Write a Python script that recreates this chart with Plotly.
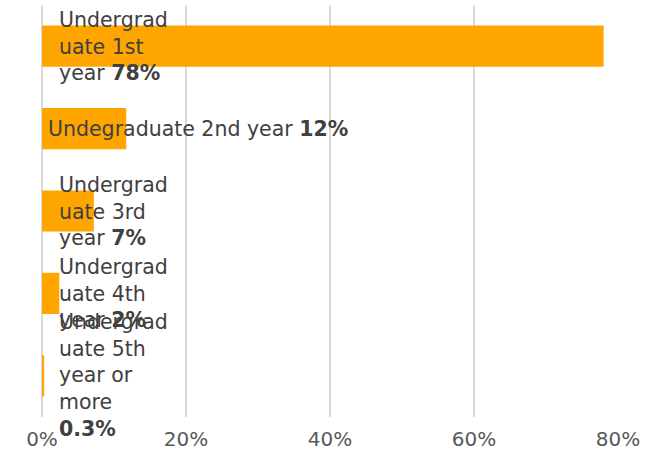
import plotly.graph_objects as go

categories = ["Undergraduate 1st year", "Undegraduate 2nd year", "Undergraduate 3rd year",
              "Undergraduate 4th year", "Undergraduate 5th year or more"]
values = [0.78, 0.117, 0.072, 0.024, 0.003]
label_names = ["Undergrad<br>uate 1st<br>year ", "Undegraduate 2nd year ", "Undergrad<br>uate 3rd<br>year ",
               "Undergrad<br>uate 4th<br>year ", "Undergrad<br>uate 5th<br>year or<br>more<br>"]
label_values = ["78%", "12%", "7%", "2%", "0.3%"]
label_shift = [15, 4, 15, 15, 15]
tick_vals = [0, 0.2, 0.4, 0.6, 0.8]
tick_text = ["0%", "20%", "40%", "60%", "80%"]

FONT = "DejaVu Sans, Verdana, sans-serif"

fig = go.Figure(go.Bar(
    y=categories, x=values, orientation="h",
    marker=dict(color="#FFA500", line=dict(width=0)),
    width=0.5,
))

for cat, name, val, sh in zip(categories, label_names, label_values, label_shift):
    fig.add_annotation(
        x=0, y=cat, xref="x", yref="y",
        text=f"{name}<b>{val}</b>",
        showarrow=False, xanchor="left", yanchor="middle", align="left",
        xshift=sh,
        font=dict(family=FONT, size=20.5, color="#404040"),
    )

fig.update_layout(
    width=648, height=458,
    margin=dict(l=42, r=30, t=5, b=41, autoexpand=False),
    paper_bgcolor="white", plot_bgcolor="white",
    showlegend=False,
    bargap=0.5,
)
fig.update_xaxes(
    range=[0, 0.8], autorange=False, tickvals=tick_vals, ticktext=tick_text,
    showgrid=True, gridcolor="#d9d9d9", gridwidth=2,
    zeroline=True, zerolinecolor="#d9d9d9", zerolinewidth=2, showline=False,
    tickfont=dict(family=FONT, size=20, color="#595959"),
    ticks="", ticklabelstandoff=8, fixedrange=True, automargin=False,
)
fig.update_yaxes(
    categoryorder="array", categoryarray=categories[::-1],
    range=[-0.5, 4.5], autorange=False,
    showticklabels=False, showgrid=False, zeroline=False, showline=False,
    automargin=False, fixedrange=True,
)

fig.write_html("out.html", config={"displayModeBar": False},
               post_script="document.body.style.margin='0';document.body.style.overflow='hidden';")
